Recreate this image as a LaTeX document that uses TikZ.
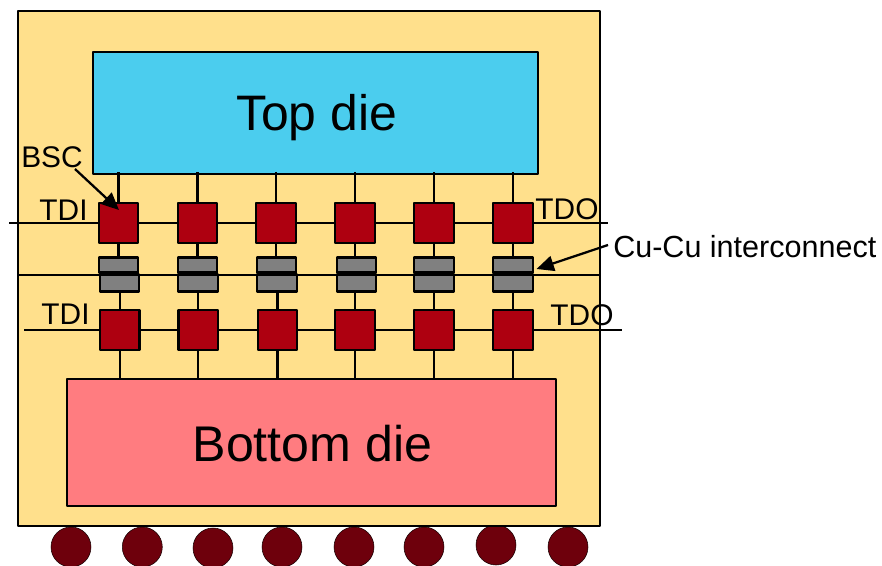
\documentclass[tikz,border=0pt]{standalone}
\usepackage{fontspec}
\setmainfont{Liberation Sans}
\usetikzlibrary{arrows.meta}
\definecolor{pkg}{HTML}{FFE08C}
\definecolor{topc}{HTML}{4BCDEE}
\definecolor{botc}{HTML}{FF7C80}
\definecolor{bsc}{HTML}{AE0010}
\definecolor{ball}{HTML}{6E000C}
\definecolor{cugray}{HTML}{808080}
\tikzset{
  box/.style={draw=black,line width=1.7pt,rectangle,inner sep=0pt,line join=round},
  bscbox/.style={box,fill=bsc,minimum width=29.6pt,minimum height=29.6pt},
  padtop/.style={box,fill=cugray,minimum width=29.6pt,minimum height=11.25pt},
  padbot/.style={box,fill=cugray,minimum width=29.6pt,minimum height=12.75pt},
  wire/.style={line width=1.7pt,draw=black},
  pointer/.style={line width=1.7pt,draw=black,-{Triangle[length=13pt,width=11.5pt]}},
  solder/.style={circle,draw=black!80!ball,line width=.4pt,fill=ball,inner sep=0pt,minimum size=30pt},
  lab/.style={inner sep=0pt,font=\fontsize{22.4}{24}\selectfont},
}
\begin{document}
\begin{tikzpicture}[x=0.75pt,y=-0.75pt]
\useasboundingbox (0,0) rectangle (882,565);
\begin{scope}
\clip (0,0) rectangle (882,565);
\foreach \i/\x/\y in {1/71/547,2/142.3/547,3/213/548,4/282/547,5/354/547,6/424/547,7/496/545,8/568/547}
  \node[solder] (ball\i) at (\x,\y) {};
\end{scope}
\node[box,fill=pkg,minimum width=436.5pt,minimum height=386.25pt] (pkg) at (309,268.5) {};
\node[box,fill=topc,minimum width=333.75pt,minimum height=91.5pt] (topdie) at (315.5,113) {};
\node[box,fill=botc,minimum width=366.75pt,minimum height=95.25pt] (botdie) at (311.5,442.5) {};
\node[inner sep=0pt,font=\fontsize{37.4}{40}\selectfont] (toplabel) at (316.5,118) {Top die};
\node[inner sep=0pt,font=\fontsize{37.6}{40}\selectfont] (botlabel) at (312.5,443.5) {Bottom die};
% boundary-scan cells and pads
\foreach \i/\x in {1/118.5,2/197.5,3/276,4/355,5/434,6/513}
  \node[bscbox] (t\i) at (\x,223) {};
\foreach \i/\x in {1/119.7,2/198.2,3/277.5,4/355,5/434,6/513}
  \node[bscbox] (b\i) at (\x,330) {};
\foreach \i/\x in {1/118.5,2/197.5,3/276.5,4/356.5,5/434,6/513}
  \node[padtop] (gu\i) at (\x,265) {};
\foreach \i/\x in {1/119.5,2/198,3/277,4/356.5,5/434,6/513}
  \node[padbot] (gl\i) at (\x,283) {};
% free ends
\coordinate (tl) at (9,223);
\coordinate (tr) at (608,223);
\coordinate (ml) at (18,275);
\coordinate (mr) at (600,275);
\coordinate (bl) at (24,330);
\coordinate (br) at (622,330);
% horizontal wires
\draw[wire] (tl) -- (t1);
\draw[wire] (t6) -- (tr);
\draw[wire] (bl) -- (b1);
\draw[wire] (b6) -- (br);
\draw[wire] (ml) -- (mr);
\foreach \a/\b in {1/2,2/3,3/4,4/5,5/6}{
  \draw[wire] (t\a) -- (t\b);
  \draw[wire] (b\a) -- (b\b);
}
% vertical wires
\foreach \i in {1,...,6}{
  \draw[wire] (t\i.north) -- ([yshift=22.5pt]t\i.north);
  \draw[wire] (t\i.south) -- (t\i.south |- gu\i.north);
  \draw[wire] (b\i.north) -- (b\i.north |- gl\i.south);
  \draw[wire] (b\i.south) -- (b\i.south |- botdie.north);
}
% labels
\node[lab] (lbsc) at (52,157) {BSC};
\node[lab] (ltdi) at (63.5,210) {TDI};
\node[lab] (ltdo) at (567,209) {TDO};
\node[lab] (ltdib) at (65.5,314) {TDI};
\node[lab] (ltdob) at (582,315) {TDO};
\node[lab,anchor=west,font=\fontsize{22.9}{24}\selectfont] (lcu) at (613,247) {Cu-Cu interconnect};
% pointers
\coordinate (pbsc) at (75,169);
\coordinate (tipbsc) at (119,210);
\coordinate (pcu) at (608,245);
\coordinate (tipcu) at (536.5,269);
\draw[pointer] (pbsc) -- (tipbsc);
\draw[pointer] (pcu) -- (tipcu);
\end{tikzpicture}
\end{document}
